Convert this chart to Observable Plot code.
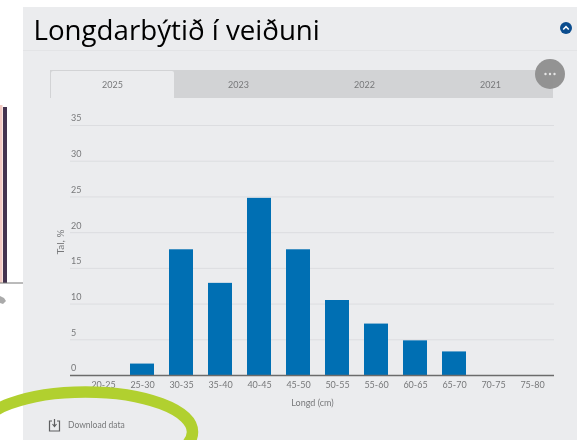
<!DOCTYPE html>
<html><head><meta charset="utf-8">
<script src="https://cdn.jsdelivr.net/npm/d3@7"></script>
<script src="https://cdn.jsdelivr.net/npm/@observablehq/plot@0.6"></script>
<style>
html,body{margin:0;padding:0;background:#fff;overflow:hidden}
#page{position:relative;width:577px;height:440px;overflow:hidden;background:#fff;font-family:Lato,sans-serif;filter:blur(.35px)}
#panel{position:absolute;left:23px;top:7px;width:554px;height:433px;background:#ebecee}
#sep{position:absolute;left:23px;top:50px;width:554px;height:1px;background:#e3e4e6}
h1{position:absolute;left:33.5px;top:11px;margin:0;font:400 27.7px/36px "Open Sans",sans-serif;color:#000;white-space:nowrap}
#tabs{position:absolute;left:50px;top:70px;width:503px;height:28px;background:#d2d3d5}
.tab{position:absolute;top:0;height:28px;line-height:29px;text-align:center;font-size:9px;color:#77787a;width:126px}
.tab.on{background:#ebecee;height:27px;top:1px;left:1px;width:123px;border-radius:2px 2px 0 0;line-height:27px}
#plot{position:absolute;left:0;top:0}
#more{position:absolute;left:535px;top:59px;width:30px;height:30px;border-radius:50%;background:#8f8f90;opacity:.97}
#dl{position:absolute;left:68px;top:419px;font-size:8.5px;line-height:12px;color:#77787a}
.deco{position:absolute;left:0;top:0;pointer-events:none}
</style></head><body>
<div id="page">
<div id="panel"></div><div id="sep"></div>
<h1 id="title"></h1>
<div id="tabs"></div>
<div id="plot"></div>
<div id="more"></div>
<div id="dl">Download data</div>
<svg class="deco" width="577" height="440">
  <rect x="0" y="105" width="2.5" height="178" fill="#f2c9c2"/>
  <rect x="3" y="107" width="4" height="176" fill="#43334f"/>
  <line x1="0" x2="23" y1="283" y2="283" stroke="#777" stroke-width="1"/>
  <path d="M0 296l4 2 2 3 -3 3 -3 -1z" fill="#aaa"/>
  <g fill="#e6e6e6"><circle cx="545.5" cy="74" r="1.2"/><circle cx="550" cy="74" r="1.2"/><circle cx="554.5" cy="74" r="1.2"/></g>
  <circle cx="566" cy="28" r="6" fill="#0b4d8e"/>
  <path d="M563.2 29.5l2.8-2.8 2.8 2.8" fill="none" stroke="#fff" stroke-width="1.6"/>
  <g fill="none" stroke="#5e5f61" stroke-width="1.2">
    <path d="M52 421h-2.5v10h10v-10H57"/><path d="M54.5 419v7"/><path d="M52.5 424l2 2.5 2-2.5"/>
  </g>
  <ellipse cx="85.5" cy="432" rx="107" ry="40" fill="none" stroke="#b1d02f" stroke-width="11.5"/>
</svg>
</div>
<script>
const pageTitle = "Longdarbýtið í veiðuni";
const years = ["2025","2023","2022","2021"];
const lengthBins = ["20-25","25-30","30-35","35-40","40-45","45-50","50-55","55-60","60-65","65-70","70-75","75-80"];
const percentages = [0,1.6,17.6,12.9,24.8,17.6,10.5,7.2,4.85,3.3,0,0];
const yTicks = [0,5,10,15,20,25,30,35];
const yLabel = "Tal, %";
const xLabel = "Longd (cm)";

document.getElementById("title").textContent = pageTitle;
const tabs = document.getElementById("tabs");
years.forEach((y,i)=>{
  const d = document.createElement("div");
  d.className = "tab"+(i===0?" on":"");
  d.textContent = y;
  if(i>0) d.style.left = (i*126-0.5)+"px";
  tabs.appendChild(d);
});

const data = lengthBins.map((bin,i)=>({bin,value:percentages[i]}));
const chart = Plot.plot({
  width:577,height:440,
  marginLeft:70,marginRight:23,marginTop:125,marginBottom:65,
  style:{background:"transparent",fontFamily:"Lato,sans-serif",fontSize:"9px",color:"#77787a"},
  x:{domain:lengthBins,paddingInner:0.385,paddingOuter:0.1925,align:0.5,insetLeft:13.5,insetRight:2.5,label:null},
  y:{domain:[0,35],label:null},
  marks:[
    Plot.ruleY(yTicks.filter(t=>t>0),{stroke:"#dcdde0",strokeWidth:1}),
    Plot.barY(data,{x:"bin",y:"value",fill:"#006fb3"}),
    Plot.ruleY([0],{stroke:"#6b6b6b",strokeWidth:1.5}),
    Plot.axisY({ticks:yTicks,tickSize:0,tickPadding:0,textAnchor:"start",dx:0.5,dy:-7,label:null,fontSize:9,fill:"#77787a"}),
    Plot.axisX({tickSize:0,tickPadding:6,label:null,fontSize:9,fill:"#77787a"}),
    Plot.text([xLabel],{frameAnchor:"bottom",dy:28,text:d=>d,fontSize:9,fill:"#77787a",lineAnchor:"middle"}),
    Plot.text([yLabel],{frameAnchor:"left",dx:-10,dy:4,rotate:-90,text:d=>d,fontSize:10,fill:"#77787a"})
  ]
});
document.getElementById("plot").appendChild(chart);
</script>
</body></html>
